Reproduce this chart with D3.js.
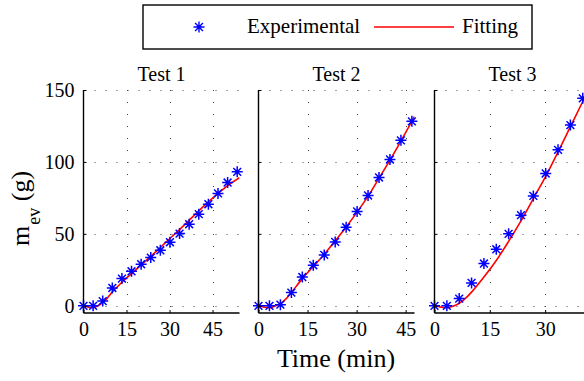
<!DOCTYPE html>
<html>
<head>
<meta charset="utf-8">
<script src="https://cdn.jsdelivr.net/npm/d3@7"></script>
<style>
  body { margin: 0; background: #fff; }
  text { font-family: "Liberation Serif", "Times New Roman", serif; fill: #000; }
</style>
</head>
<body>
<main></main>
<script>
var w = 584;
var h = 381;

// sample times (min) and evaporated mass (g)
var timeTest1 = [0, 3.35, 6.7, 10.05, 13.4, 16.75, 20.1, 23.45, 26.8, 30.15, 33.5, 36.85, 40.2, 43.55, 46.9, 50.25, 53.6];
var massTest1 = [0, 0, 3.3, 12.4, 18.9, 24.0, 28.9, 33.5, 38.6, 44.2, 50.2, 56.7, 63.7, 70.6, 78.1, 85.7, 93.1];
var timeTest2 = [0, 3.35, 6.7, 10.05, 13.4, 16.75, 20.1, 23.45, 26.8, 30.15, 33.5, 36.85, 40.2, 43.55, 46.9];
var massTest2 = [0, 0, 0.8, 9.2, 20.0, 28.2, 35.4, 44.4, 54.6, 65.6, 76.7, 89.2, 101.7, 115.0, 128.2];
var timeTest3 = [0, 3.35, 6.7, 10.05, 13.4, 16.75, 20.1, 23.45, 26.8, 30.15, 33.5, 36.85, 40.2];
var massTest3 = [0, 0, 5.0, 15.9, 29.4, 39.3, 50.0, 63.0, 76.4, 92.0, 108.4, 125.6, 144.2];

// fitted curves
var fitTime1 = [0, 1.7, 3.35, 5, 6.7, 8.4, 10.05, 13.4, 16.75, 20.1, 23.45, 26.8, 30.15, 33.5, 36.85, 40.2, 43.55, 46.9, 50.25, 53.6, 54.4];
var fitMass1 = [0, -0.9, -1.3, 0, 2.2, 5.6, 9.6, 16.4, 22.4, 28.4, 34.3, 40.5, 46.8, 53.0, 59.5, 66.0, 72.2, 78.1, 83.6, 88.0, 89.0];
var fitTime2 = [0, 1.7, 3.35, 5, 6.7, 8.4, 10.05, 13.4, 16.75, 20.1, 23.45, 26.8, 30.15, 33.5, 36.85, 40.2, 43.55, 46.9, 47.7];
var fitMass2 = [0, -0.9, -1.3, -0.2, 1.5, 4.8, 9.2, 18.9, 27.3, 35.8, 45.1, 54.8, 65.1, 76.2, 88.7, 101.3, 114.5, 128.3, 131.6];
var fitTime3 = [0, 1.7, 3.35, 5, 6.7, 8.4, 10.05, 13.4, 16.75, 20.1, 23.45, 26.8, 30.15, 33.5, 36.85, 40.2, 42.3];
var fitMass3 = [0, -0.9, -1.3, -0.3, 1.8, 5.2, 9.5, 20.0, 31.5, 44.8, 59.0, 74.5, 90.0, 107.0, 124.5, 142.0, 153.0];

var titles = ["Test 1", "Test 2", "Test 3"];
var xMax = [54.4, 47.7, 42.3];
var xTicks = [0, 15, 30, 45];
var yTicks = [0, 50, 100, 150];

var panels = [
  { t: timeTest1, m: massTest1, ft: fitTime1, fm: fitMass1 },
  { t: timeTest2, m: massTest2, ft: fitTime2, fm: fitMass2 },
  { t: timeTest3, m: massTest3, ft: fitTime3, fm: fitMass3 }
];

var panelLeft = [83.5, 258.5, 434.5];
var panelW = 156;
var plotTop = 90, plotBottom = 313;

var star = "M-5.5,0H5.5M0,-5.5V5.5M-3.9,-3.9L3.9,3.9M-3.9,3.9L3.9,-3.9";

var svg = d3.select("main").append("svg").attr("width", w).attr("height", h);
svg.append("rect").attr("width", w).attr("height", h).attr("fill", "#fff");

var yScale = d3.scaleLinear().domain([-5, 150]).range([plotBottom, plotTop]);

panels.forEach(function (p, i) {
  var x0 = panelLeft[i];
  var xScale = d3.scaleLinear().domain([0, xMax[i]]).range([x0, x0 + panelW]);
  var ticks = xTicks.filter(function (d) { return d <= xMax[i]; });
  var g = svg.append("g");

  // clip
  svg.append("clipPath").attr("id", "clip" + i)
    .append("rect").attr("x", x0).attr("y", plotTop - 1).attr("width", panelW).attr("height", plotBottom - plotTop + 1);

  // dotted GRID
  g.selectAll("line.hgrid").data(yTicks).enter().append("line")
    .attr("x1", x0).attr("x2", x0 + panelW)
    .attr("y1", function (d) { return Math.round(yScale(d)) + 0.5; })
    .attr("y2", function (d) { return Math.round(yScale(d)) + 0.5; })
    .attr("stroke", "#444").attr("stroke-width", 1).attr("stroke-dasharray", "1,10");
  g.selectAll("line.vgrid").data(ticks.filter(function (d) { return d > 0; })).enter().append("line")
    .attr("x1", function (d) { return Math.round(xScale(d)) + 0.5; })
    .attr("x2", function (d) { return Math.round(xScale(d)) + 0.5; })
    .attr("y1", plotTop).attr("y2", plotBottom)
    .attr("stroke", "#444").attr("stroke-width", 1).attr("stroke-dasharray", "1,11");

  // fitting line
  var line = d3.line()
    .x(function (d, k) { return xScale(p.ft[k]); })
    .y(function (d) { return yScale(d); })
    .curve(d3.curveCatmullRom.alpha(0.5));
  g.append("path")
    .datum(p.fm)
    .attr("clip-path", "url(#clip" + i + ")")
    .attr("d", line)
    .attr("fill", "none").attr("stroke", "#ff0000").attr("stroke-width", 1.6);

  // experimental stars
  g.selectAll("path.star").data(p.m).enter().append("path")
    .attr("class", "star")
    .attr("d", star)
    .attr("transform", function (d, k) { return "translate(" + xScale(p.t[k]) + "," + yScale(d) + ")"; })
    .attr("fill", "none").attr("stroke", "#0000ff").attr("stroke-width", 1.5);

  // AXES
  var xAxis = d3.axisBottom(xScale).tickValues(ticks).tickSize(-3).tickPadding(9).tickFormat(d3.format("d"));
  var gx = g.append("g").attr("transform", "translate(0," + plotBottom + ")").call(xAxis);
  var yAxis = d3.axisLeft(yScale).tickValues(yTicks).tickSize(-3).tickPadding(9)
    .tickFormat(i === 0 ? d3.format("d") : function () { return ""; });
  var gy = g.append("g").attr("transform", "translate(" + x0 + ",0)").call(yAxis);
  [gx, gy].forEach(function (a) {
    a.select(".domain").attr("stroke", "#000").attr("stroke-width", 1.4);
    a.selectAll(".tick line").attr("stroke", "#000");
    a.selectAll("text").attr("font-size", "20px").attr("font-family", "Liberation Serif");
  });
  gx.select(".domain").attr("d", "M" + x0 + ",0H" + (x0 + panelW));
  gy.select(".domain").attr("d", "M0," + plotBottom + "V" + plotTop);

  // title
  svg.append("text")
    .attr("x", x0 + panelW / 2).attr("y", 81)
    .attr("text-anchor", "middle").attr("font-size", "20px")
    .text(titles[i]);
});

// x label
svg.append("text")
  .attr("x", 336).attr("y", 367)
  .attr("text-anchor", "middle").attr("font-size", "26px")
  .text("Time (min)");

// y label
var yl = svg.append("text")
  .attr("transform", "rotate(-90)")
  .attr("x", -246).attr("y", 28.5)
  .attr("font-size", "26px");
yl.append("tspan").text("m");
yl.append("tspan").attr("dx", 1).attr("dy", 11).attr("font-size", "18px").text("ev");
yl.append("tspan").attr("dy", -11).text(" (g)");

// LEGEND
svg.append("rect")
  .attr("x", 143).attr("y", 5).attr("width", 389).attr("height", 44)
  .attr("fill", "#fff").attr("stroke", "#000").attr("stroke-width", 1.4);
svg.append("path").attr("d", star)
  .attr("transform", "translate(199,27)")
  .attr("fill", "none").attr("stroke", "#0000ff").attr("stroke-width", 1.4);
svg.append("text").attr("x", 247).attr("y", 33).attr("font-size", "21px").text("Experimental");
svg.append("line").attr("x1", 374).attr("x2", 454).attr("y1", 27).attr("y2", 27)
  .attr("stroke", "#ff0000").attr("stroke-width", 1.6);
svg.append("text").attr("x", 462).attr("y", 33).attr("font-size", "21px").text("Fitting");
</script>
</body>
</html>
